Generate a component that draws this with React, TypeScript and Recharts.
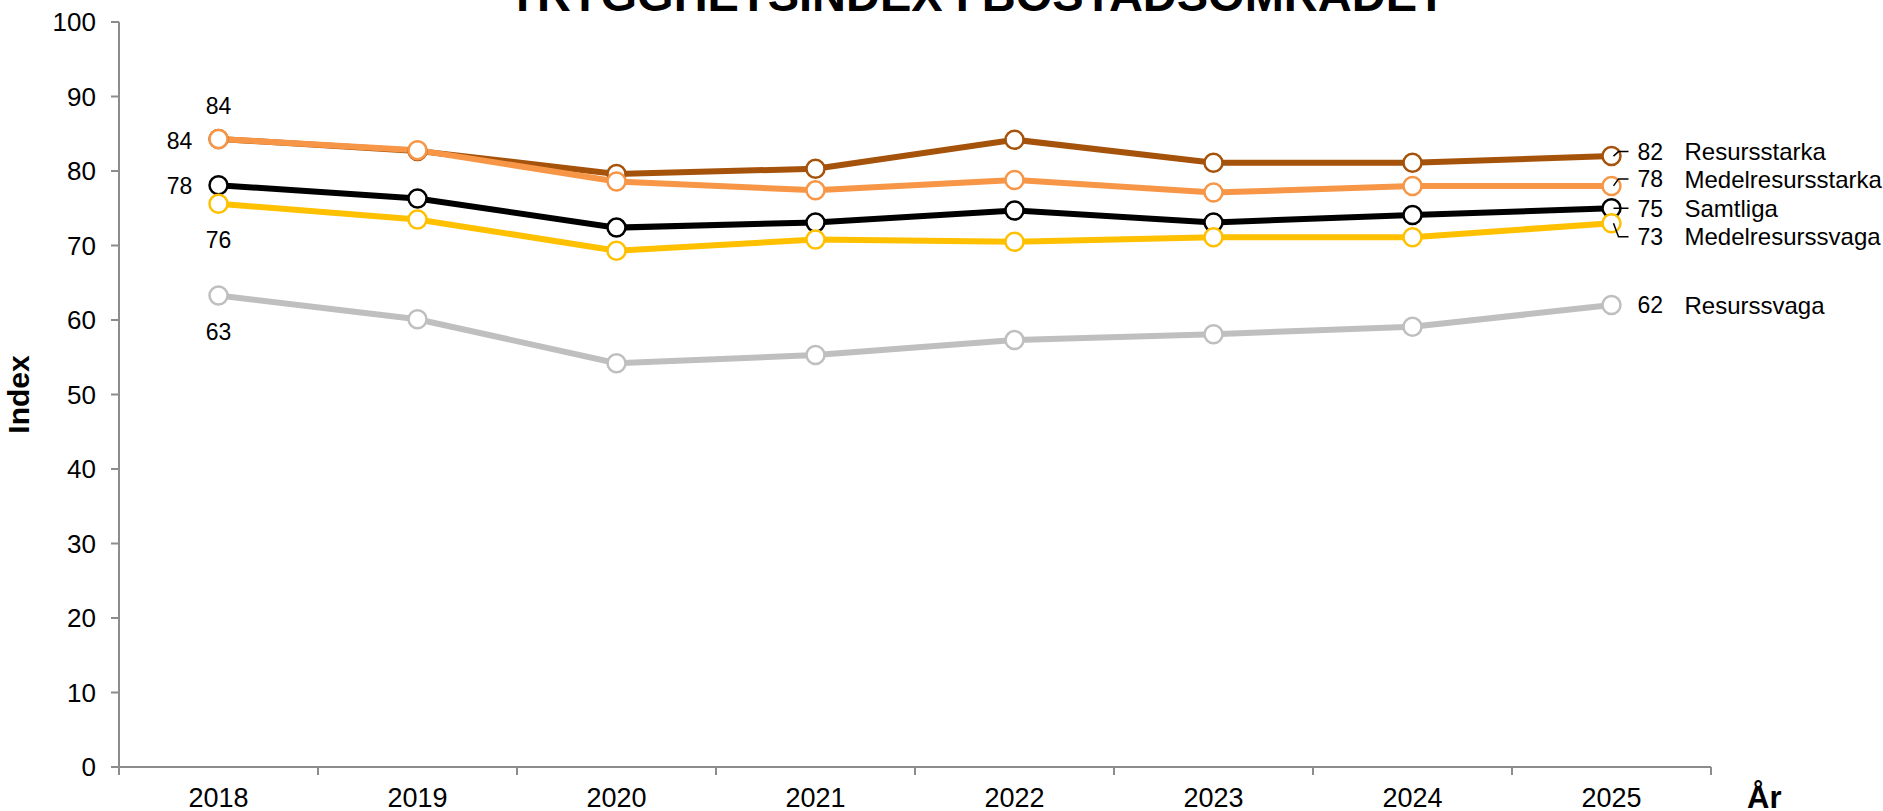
import { LineChart, Line, XAxis, YAxis, LabelList, Label } from 'recharts'

const years = ['2018', '2019', '2020', '2021', '2022', '2023', '2024', '2025']
const resursstarka = [84.3, 82.7, 79.6, 80.3, 84.2, 81.1, 81.1, 82.0]
const medelresursstarka = [84.3, 82.8, 78.6, 77.4, 78.8, 77.1, 78.0, 78.0]
const samtliga = [78.1, 76.3, 72.4, 73.1, 74.7, 73.1, 74.1, 75.0]
const medelresurssvaga = [75.6, 73.5, 69.3, 70.8, 70.5, 71.1, 71.1, 73.0]
const resurssvaga = [63.3, 60.1, 54.2, 55.3, 57.3, 58.1, 59.1, 62.0]
const yTicks = [0, 10, 20, 30, 40, 50, 60, 70, 80, 90, 100]

const title = 'TRYGGHETSINDEX I BOSTADSOMRÅDET'
const yTitle = 'Index'
const xTitle = 'År'

const W = 1883
const H = 811
const Y_AXIS_W = 119
const X_AXIS_H = 44
const MARGIN = { top: 22, right: 172, bottom: 0, left: 0 }
const PLOT_W = W - Y_AXIS_W - MARGIN.right
const STEP = PLOT_W / years.length
const AXIS = '#8c8c8c'
const FONT = '"Liberation Sans", Arial, sans-serif'

const data = years.map((year, i) => ({
  year,
  resursstarka: resursstarka[i],
  medelresursstarka: medelresursstarka[i],
  samtliga: samtliga[i],
  medelresurssvaga: medelresurssvaga[i],
  resurssvaga: resurssvaga[i],
}))

// label placement per series: first point (dx/dy) and last point (dy of the leader)
const series = [
  { key: 'resursstarka', name: 'Resursstarka', color: '#a5520b', first: { dx: 0, dy: -33.5 }, lastDy: -4.5, leader: true },
  { key: 'medelresursstarka', name: 'Medelresursstarka', color: '#f79646', first: { dx: -39, dy: 1.4 }, lastDy: -7, leader: true },
  { key: 'samtliga', name: 'Samtliga', color: '#000000', first: { dx: -39, dy: 0.7 }, lastDy: 0, leader: true },
  { key: 'medelresurssvaga', name: 'Medelresurssvaga', color: '#ffc000', first: { dx: 0, dy: 36 }, lastDy: 13.5, leader: true },
  { key: 'resurssvaga', name: 'Resurssvaga', color: '#bfbfbf', first: { dx: 0, dy: 36 }, lastDy: 0, leader: false },
]

function YearTick(props: any) {
  const { x, y, payload, index } = props
  const axisY = y - 21
  const left = x - STEP / 2
  return (
    <g>
      <line x1={left} x2={left} y1={axisY} y2={axisY + 8} stroke={AXIS} strokeWidth={2} />
      {index === years.length - 1 && (
        <line x1={x + STEP / 2} x2={x + STEP / 2} y1={axisY} y2={axisY + 8} stroke={AXIS} strokeWidth={2} />
      )}
      <text x={x} y={y} dy="0.71em" textAnchor="middle" fontSize={27} fill="#000" fontFamily={FONT}>
        {payload.value}
      </text>
    </g>
  )
}

function makeLabel(s: (typeof series)[number]) {
  return (props: any) => {
    const { x, y, value, index } = props
    if (x == null || y == null) return null
    const v = Math.round(Number(value))
    if (index === 0) {
      return (
        <text
          x={x + s.first.dx}
          y={y + s.first.dy}
          dy="0.36em"
          textAnchor="middle"
          fontSize={23}
          fill="#000"
          fontFamily={FONT}
        >
          {v}
        </text>
      )
    }
    if (index === years.length - 1) {
      const ly = y + s.lastDy
      return (
        <g>
          {s.leader && (
            <path
              d={`M${x + 2},${y} L${x + 7},${ly} L${x + 17},${ly}`}
              fill="none"
              stroke="#000"
              strokeWidth={1.5}
            />
          )}
          <text x={x + 26} y={ly} dy="0.36em" fontSize={23} fill="#000" fontFamily={FONT}>
            {v}
          </text>
          <text x={x + 73} y={ly} dy="0.36em" fontSize={24} fill="#000" fontFamily={FONT}>
            {s.name}
          </text>
        </g>
      )
    }
    return null
  }
}

function IndexTitle(props: any) {
  const { x, y, height } = props.viewBox
  const cx = x + 29
  const cy = y + height / 2
  return (
    <text
      x={cx}
      y={cy}
      transform={`rotate(-90, ${cx}, ${cy})`}
      textAnchor="middle"
      fontSize={30}
      fontWeight="bold"
      fill="#000"
      fontFamily={FONT}
    >
      {yTitle}
    </text>
  )
}

function YearTitle(props: any) {
  const { x, y, width } = props.viewBox
  return (
    <text x={x + width + 36} y={y + 41} fontSize={31} fontWeight="bold" fill="#000" fontFamily={FONT}>
      {xTitle}
    </text>
  )
}

export default function App() {
  return (
    <div style={{ position: 'absolute', left: 0, top: 0, width: W, height: H, background: '#fff', overflow: 'hidden' }}>
      <LineChart width={W} height={H} data={data} margin={MARGIN}>
        <XAxis
          dataKey="year"
          height={X_AXIS_H}
          padding={{ left: STEP / 2, right: STEP / 2 }}
          axisLine={{ stroke: AXIS, strokeWidth: 2 }}
          tickLine={false}
          tickSize={8}
          tickMargin={13}
          interval={0}
          tick={<YearTick />}
        >
          <Label content={<YearTitle />} />
        </XAxis>
        <YAxis
          width={Y_AXIS_W}
          domain={[0, 100]}
          ticks={yTicks}
          interval={0}
          axisLine={{ stroke: AXIS, strokeWidth: 2 }}
          tickLine={{ stroke: AXIS, strokeWidth: 2 }}
          tickSize={8}
          tickMargin={15}
          tick={{ fill: '#000', fontSize: 26, fontFamily: FONT }}
        >
          <Label content={<IndexTitle />} />
        </YAxis>
        {series.map((s) => (
          <Line
            key={s.key}
            dataKey={s.key}
            name={s.name}
            type="linear"
            stroke={s.color}
            strokeWidth={6}
            dot={{ r: 9, fill: '#fff', stroke: s.color, strokeWidth: 2.5 }}
            activeDot={false}
            isAnimationActive={false}
          >
            <LabelList dataKey={s.key} content={makeLabel(s)} />
          </Line>
        ))}
      </LineChart>
      <div
        style={{
          position: 'absolute',
          left: 977,
          top: -29,
          transform: 'translateX(-50%)',
          whiteSpace: 'nowrap',
          fontFamily: FONT,
          fontWeight: 'bold',
          fontSize: 47,
          lineHeight: '47px',
          color: '#000',
        }}
      >
        {title}
      </div>
    </div>
  )
}
